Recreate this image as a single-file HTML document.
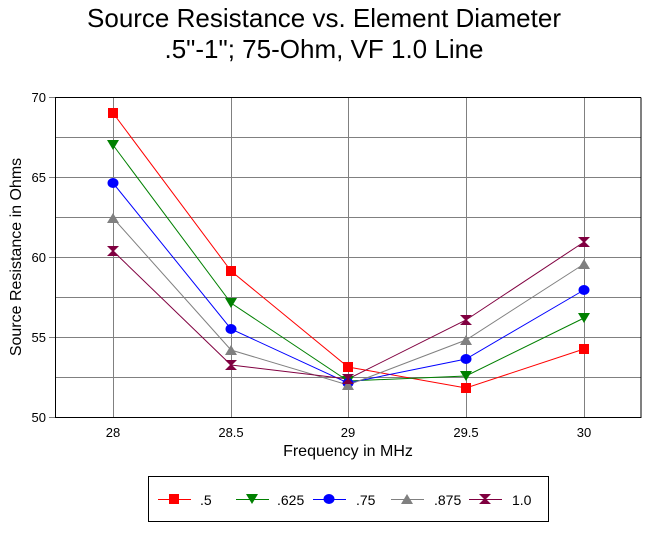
<!DOCTYPE html>
<html><head><style>body{margin:0;background:#fff}</style></head><body>
<svg width="648" height="528" xmlns="http://www.w3.org/2000/svg" font-family="Liberation Sans, sans-serif">
<rect width="648" height="528" fill="#fff"/>
<text x="324" y="27" font-size="26" text-anchor="middle">Source Resistance vs. Element Diameter</text>
<text x="324" y="58" font-size="26" text-anchor="middle">.5"-1"; 75-Ohm, VF 1.0 Line</text>
<g stroke="#808080" stroke-width="1">
<line x1="113.5" y1="97" x2="113.5" y2="417"/><line x1="231.5" y1="97" x2="231.5" y2="417"/><line x1="348.5" y1="97" x2="348.5" y2="417"/><line x1="466.5" y1="97" x2="466.5" y2="417"/><line x1="584.5" y1="97" x2="584.5" y2="417"/>
<line x1="49" y1="97.5" x2="641" y2="97.5"/><line x1="55" y1="137.5" x2="641" y2="137.5"/><line x1="49" y1="177.5" x2="641" y2="177.5"/><line x1="55" y1="217.5" x2="641" y2="217.5"/><line x1="49" y1="257.5" x2="641" y2="257.5"/><line x1="55" y1="297.5" x2="641" y2="297.5"/><line x1="49" y1="337.5" x2="641" y2="337.5"/><line x1="55" y1="377.5" x2="641" y2="377.5"/><line x1="49" y1="417.5" x2="641" y2="417.5"/>
</g>
<polyline points="641,97.5 55.5,97.5 55.5,417.5 641,417.5 641,97.5" fill="none" stroke="#000"/>
<g font-size="13" text-anchor="end"><text x="46" y="102">70</text><text x="46" y="182">65</text><text x="46" y="262">60</text><text x="46" y="342">55</text><text x="46" y="422">50</text></g>
<g font-size="13" text-anchor="middle"><text x="113" y="437">28</text><text x="231" y="437">28.5</text><text x="348" y="437">29</text><text x="466" y="437">29.5</text><text x="584" y="437">30</text></g>
<text x="348" y="456" font-size="16" text-anchor="middle">Frequency in MHz</text>
<text transform="translate(21,257) rotate(-90)" font-size="16" text-anchor="middle">Source Resistance in Ohms</text>
<g fill="none" stroke-width="1">
<polyline stroke="#f00" points="113,113 231,271 348,367 466,388 584,349"/>
<polyline stroke="#008000" points="113,145 231,303 348,381 466,376 584,318"/>
<polyline stroke="#00f" points="113,183 231,329 348,383 466,359 584,290"/>
<polyline stroke="#808080" points="113,218 231,350 348,385 466,340 584,264"/>
<polyline stroke="#800040" points="113,251 231,365 348,379 466,320 584,242"/>
</g>
<defs>
<rect id="sq" x="-5" y="-5" width="10" height="10" fill="#f00"/>
<polygon id="tv" points="-6,-5 6,-5 0,5" fill="#008000"/>
<ellipse id="ci" rx="5.5" ry="5" fill="#00f"/>
<polygon id="tu" points="-6,5 6,5 0,-5" fill="#808080"/>
<polygon id="hg" points="-6,-5 6,-5 1,0 6,5 -6,5 -1,0" fill="#800040"/>
</defs>
<g>
<use href="#sq" x="113" y="113"/><use href="#sq" x="231" y="271"/><use href="#sq" x="348" y="367"/><use href="#sq" x="466" y="388"/><use href="#sq" x="584" y="349"/>
<use href="#tv" x="113" y="145"/><use href="#tv" x="231" y="303"/><use href="#tv" x="348" y="381"/><use href="#tv" x="466" y="376"/><use href="#tv" x="584" y="318"/>
<use href="#ci" x="113" y="183"/><use href="#ci" x="231" y="329"/><use href="#ci" x="348" y="383"/><use href="#ci" x="466" y="359"/><use href="#ci" x="584" y="290"/>
<use href="#tu" x="113" y="218"/><use href="#tu" x="231" y="350"/><use href="#tu" x="348" y="385"/><use href="#tu" x="466" y="340"/><use href="#tu" x="584" y="264"/>
<use href="#hg" x="113" y="251"/><use href="#hg" x="231" y="365"/><use href="#hg" x="348" y="379"/><use href="#hg" x="466" y="320"/><use href="#hg" x="584" y="242"/>
</g>
<rect x="148.5" y="476.5" width="400" height="45" fill="none" stroke="#000"/>
<g font-size="14">
<line x1="158" y1="499.5" x2="191" y2="499.5" stroke="#f00"/><use href="#sq" x="174" y="499"/><text x="200" y="505">.5</text>
<line x1="236" y1="499.5" x2="269" y2="499.5" stroke="#008000"/><use href="#tv" x="252" y="499"/><text x="277" y="505">.625</text>
<line x1="313" y1="499.5" x2="346" y2="499.5" stroke="#00f"/><use href="#ci" x="329" y="499"/><text x="356" y="505">.75</text>
<line x1="391" y1="499.5" x2="424" y2="499.5" stroke="#808080"/><use href="#tu" x="407" y="499"/><text x="434" y="505">.875</text>
<line x1="469" y1="499.5" x2="502" y2="499.5" stroke="#800040"/><use href="#hg" x="485" y="499"/><text x="512" y="505">1.0</text>
</g>
</svg>
</body></html>
